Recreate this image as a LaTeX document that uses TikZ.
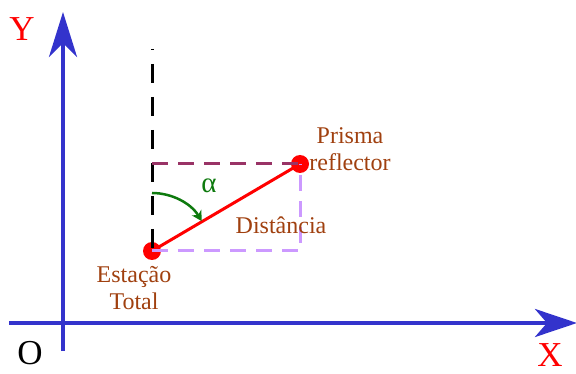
\documentclass[tikz,border=0pt]{standalone}
\usepackage{fontspec}
\setmainfont{Liberation Serif}
\usetikzlibrary{arrows.meta}
\definecolor{axisblue}{HTML}{3333CC}
\definecolor{lblbrown}{HTML}{A0400F}
\definecolor{darkpurple}{HTML}{993366}
\definecolor{lightpurple}{HTML}{CC99FF}
\definecolor{arcgreen}{HTML}{0E7A0E}
\tikzset{
  axis/.style={draw=axisblue, line width=4.5pt},
  axislabel/.style={text=red, font=\fontsize{35}{38}\selectfont, inner sep=0pt},
  lbl/.style={text=lblbrown, font=\fontsize{24}{27}\selectfont, align=center, inner sep=0pt},
  dot/.style={circle, fill=red, minimum size=18pt, inner sep=0pt},
}
\begin{document}
\begin{tikzpicture}[x=1pt,y=-1pt]
\useasboundingbox (0,0) rectangle (576,374);
% axes
\coordinate (xs) at (9,323);
\coordinate (xe) at (577,323);
\coordinate (ys) at (63,351);
\coordinate (ye) at (63,12);
\draw[axis, -{Stealth[length=42pt,width=28pt,inset=12pt]}] (xs) -- (xe);
\draw[axis, -{Stealth[length=45pt,width=28pt,inset=14pt]}] (ys) -- (ye);
\node[axislabel] (ylab) at (22,29) {Y};
\node[axislabel] (xlab) at (550,355) {X};
\node[axislabel, text=black] (olab) at (30,353) {O};
% points
\node[dot] (st) at (152,251) {};
\node[dot] (pr) at (300,164) {};
\coordinate (top) at (152,49);
\coordinate (corner) at (152,164);
\coordinate (br) at (300,251);
\draw[red, line width=3pt] (st.center) -- (pr.center);
\draw[black, line width=3pt, dash pattern=on 19pt off 14pt, dash phase=18pt] (top) -- (st.center);
\draw[darkpurple, line width=3pt, dash pattern=on 16pt off 10pt] (corner) -- (pr.center);
\draw[lightpurple, line width=3pt, dash pattern=on 16pt off 10pt] (st.center) -- (br) -- (pr.center);
% angle
\draw[arcgreen, line width=2.5pt, -{Stealth[length=10pt,width=11pt,inset=3pt]}] (152,193) arc[start angle=-90, end angle=-31, radius=58];
\node[text=arcgreen, font=\fontsize{29}{30}\selectfont, inner sep=0pt] (alpha) at (209,186) {α};
% labels
\node[lbl] (dist) at (281,225) {Distância};
\node[lbl] (prl) at (350,149) {Prisma\\reflector};
\node[lbl] (stl) at (134,288) {Estação\\Total};
\end{tikzpicture}
\end{document}
